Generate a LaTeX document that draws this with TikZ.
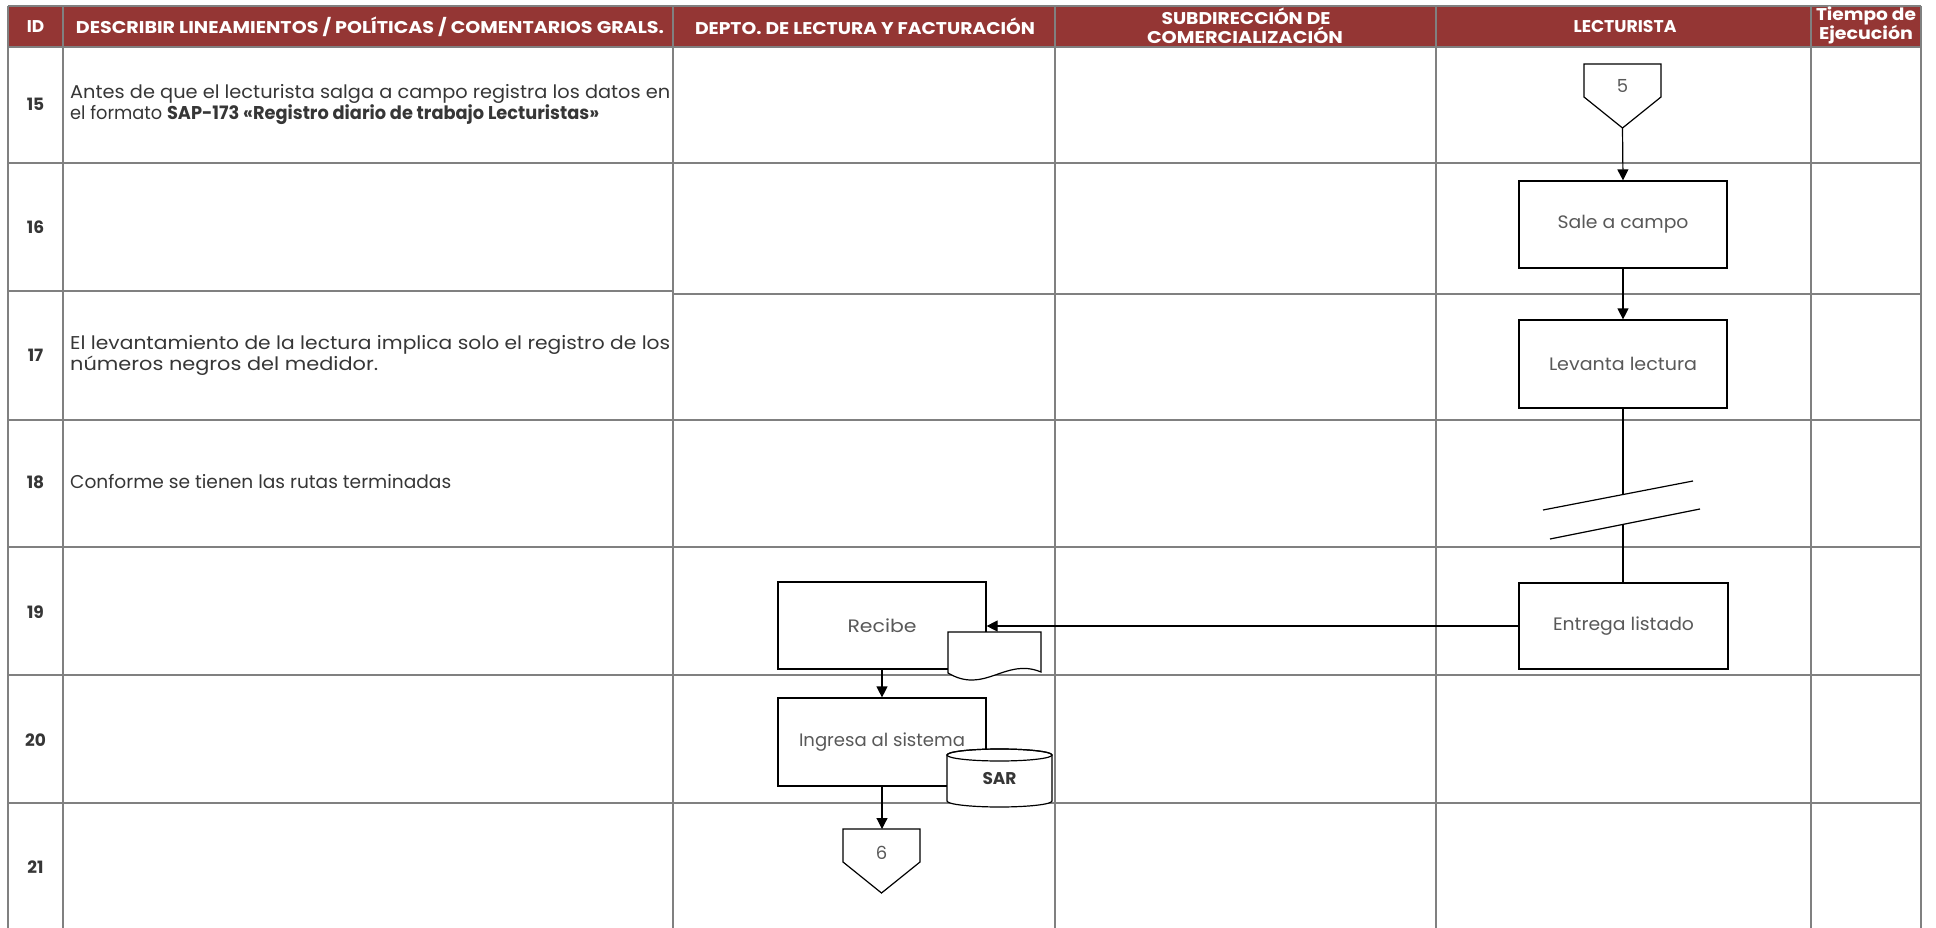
\documentclass[tikz,border=0pt]{standalone}
\usepackage{fontspec}
\setmainfont{Poppins}
\usetikzlibrary{arrows.meta}
\definecolor{hdr}{HTML}{943634}
\definecolor{gridc}{HTML}{808080}
\definecolor{txt}{HTML}{363636}
\definecolor{shtxt}{HTML}{595959}
\newcommand{\fitto}[2]{\resizebox{#1}{\height}{#2}}
\begin{document}
\begin{tikzpicture}[x=1pt,y=-1pt,
  gridline/.style={draw=gridc, line width=1.5pt},
  box/.style={draw, line width=1.2pt, fill=white, minimum width=208pt, minimum height=87pt, inner sep=0pt, text=shtxt, font=\fontsize{18}{22}\selectfont},
  shtext/.style={inner sep=0pt, text=shtxt, font=\fontsize{18}{22}\selectfont},
  arr/.style={line width=1.2pt, -{Triangle[length=11pt,width=11pt]}},
  link/.style={line width=1.2pt},
  shp/.style={draw, line width=1.2pt, fill=white},
  hdrtext/.style={text=white, font=\bfseries\fontsize{17}{19}\selectfont, inner sep=0pt},
  idtext/.style={text=txt, font=\bfseries\fontsize{17}{20}\selectfont, inner sep=0pt},
  desc/.style={anchor=west, inner sep=0pt, text=txt, font=\fontsize{18.5}{22}\selectfont}]
\useasboundingbox (0,0) rectangle (1936,928);
% header
\fill[hdr] (8,6) rectangle (1921,47);
% grid horizontal
\draw[gridline] (8,6) -- (1921,6);
\draw[gridline] (8,47) -- (1921,47);
\draw[gridline] (8,163) -- (1921,163);
\draw[gridline] (8,291) -- (673,291);
\draw[gridline] (673,294) -- (1921,294);
\draw[gridline] (8,420) -- (1921,420);
\draw[gridline] (8,547) -- (1921,547);
\draw[gridline] (8,675) -- (1921,675);
\draw[gridline] (8,803) -- (1921,803);
% grid vertical
\foreach \x in {8,63,673,1055,1436,1811,1921}
  \draw[gridline] (\x,6) -- (\x,928);
% header texts
\node[hdrtext] (hid) at (35.5,26.5) {ID};
\node[hdrtext] (hdesc) at (370,26.5) {\fitto{588pt}{DESCRIBIR LINEAMIENTOS / POLÍTICAS / COMENTARIOS GRALS.}};
\node[hdrtext] (hdepto) at (865,26.5) {\fitto{340pt}{DEPTO. DE LECTURA Y FACTURACIÓN}};
\node[hdrtext] (hsub1) at (1246,16) {\fitto{169pt}{SUBDIRECCIÓN DE}};
\node[hdrtext] (hsub2) at (1245,35.5) {\fitto{196pt}{COMERCIALIZACIÓN}};
\node[hdrtext] (hlect) at (1625,26.5) {\fitto{103pt}{LECTURISTA}};
\node[hdrtext] (htie1) at (1866,16) {\fitto{100pt}{Tiempo de}};
\node[hdrtext] (htie2) at (1866,35) {\fitto{94pt}{Ejecución}};
% row ids
\node[idtext] (r15) at (35.5,104) {15};
\node[idtext] (r16) at (35.5,227) {16};
\node[idtext] (r17) at (35.5,355) {17};
\node[idtext] (r18) at (35.5,482) {18};
\node[idtext] (r19) at (35.5,612) {19};
\node[idtext] (r20) at (35.5,740) {20};
\node[idtext] (r21) at (35.5,867) {21};
% descriptions
\node[desc] (d15a) at (70,94) {\fitto{600pt}{Antes de que el lecturista salga a campo registra los datos en}};
\node[desc] (d15b) at (70,115) {\fitto{529pt}{el formato \textbf{SAP-173 «Registro diario de trabajo Lecturistas»}}};
\node[desc] (d17a) at (70,344.5) {\fitto{600pt}{El levantamiento de la lectura implica solo el registro de los}};
\node[desc] (d17b) at (70,365.5) {\fitto{308pt}{números negros del medidor.}};
\node[desc] (d18) at (70,481.5) {\fitto{381pt}{Conforme se tienen las rutas terminadas}};
% off-page connector 5
\draw[shp] (1584,64) -- (1661,64) -- (1661,97) -- (1622.5,128) -- (1584,97) -- cycle;
\node[shtext] (c5) at (1622.5,86) {5};
\coordinate (c5tip) at (1622.5,128);
% lecturista boxes
\node[box] (sale) at (1623,224.5) {\fitto{131pt}{Sale a campo}};
\node[box, minimum height=88pt] (levanta) at (1623,364) {\fitto{148pt}{Levanta lectura}};
\node[box, minimum width=209pt, minimum height=86pt] (entrega) at (1623.5,626) {\fitto{141pt}{Entrega listado}};
% depto boxes
\node[box] (recibe) at (882,625.5) {\fitto{69pt}{Recibe}};
\node[box, minimum height=88pt] (ingresa) at (882,742) {\fitto{166pt}{Ingresa al sistema}};
% document shape
\draw[shp] (948,632) -- (1041,632) -- (1041,672) .. controls (1005,657) and (985,695) .. (948,673) -- cycle;
% cylinder SAR
\draw[shp] (947,755) -- (947,801) arc[start angle=180, end angle=0, x radius=52.5, y radius=6] -- (1052,755) arc[start angle=0, end angle=-180, x radius=52.5, y radius=6] -- cycle;
\draw[line width=1.2pt] (999.5,755) ellipse[x radius=52.5, y radius=6];
\node[inner sep=0pt, text=txt, font=\bfseries\fontsize{17}{20}\selectfont] (sar) at (999.5,779) {\fitto{34pt}{SAR}};
% off-page connector 6
\draw[shp] (843,829) -- (920,829) -- (920,862) -- (881.5,893) -- (843,862) -- cycle;
\node[shtext] (c6) at (881.5,853) {6};
\coordinate (c6top) at (882,829);
% break symbol
\coordinate (brk1) at (1623,494);
\coordinate (brk2) at (1623,525);
\draw[link] (1543,510) -- (1693,481);
\draw[link] (1550,539) -- (1700,509);
% connectors
\draw[arr] (c5tip) -- (sale.north);
\draw[arr] (sale.south) -- (levanta.north);
\draw[link] (levanta.south) -- (brk1);
\draw[link] (brk2) -- (entrega.north -| brk2);
\draw[arr] (entrega.west) -- (entrega.west -| recibe.east);
\draw[arr] (recibe.south) -- (ingresa.north);
\draw[arr] (ingresa.south) -- (c6top);
\end{tikzpicture}
\end{document}
